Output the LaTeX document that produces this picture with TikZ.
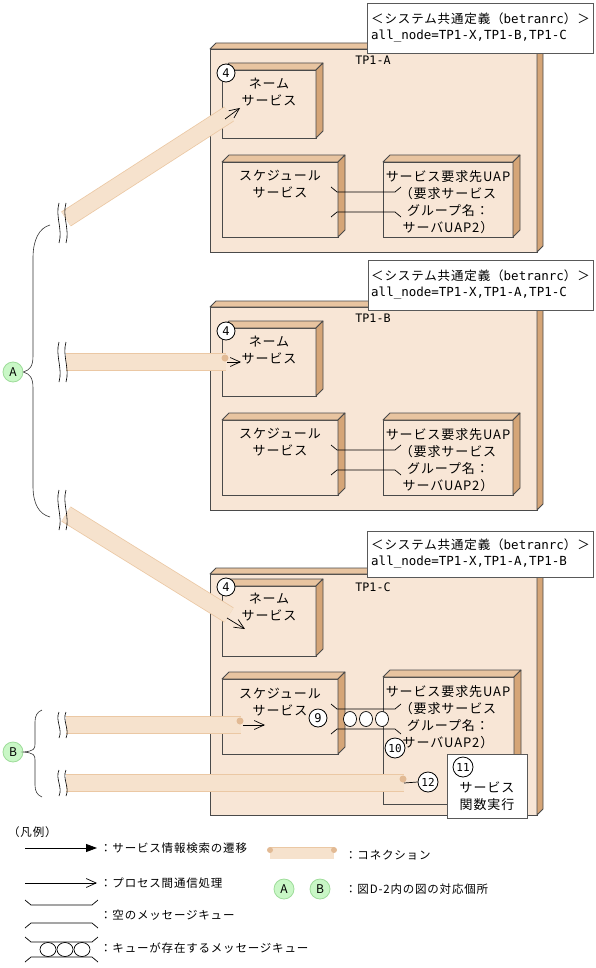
\documentclass[tikz,border=0pt]{standalone}
\usepackage{fontspec}
\setmainfont{Noto Sans CJK JP}[LetterSpace=7]
\newfontfamily\hw{DejaVu Sans Mono}
\usetikzlibrary{arrows.meta,calc}

\definecolor{boxfront}{HTML}{F8E6D6}
\definecolor{boxtop}{HTML}{E8C4A0}
\definecolor{boxside}{HTML}{D5A577}
\definecolor{pipefill}{HTML}{F6E2CD}
\definecolor{pipeedge}{HTML}{EBC8A4}
\definecolor{pipedot}{HTML}{E2BA94}
\definecolor{markfill}{HTML}{C9F7C6}
\definecolor{markedge}{HTML}{9EDC9A}
\definecolor{outline}{HTML}{4A4A4A}

% 3D box: name, x1, y1, x2, y2, depth
\newcommand{\tpbox}[6]{%
  \node[front, minimum width={#4-#2}, minimum height={#5-#3}] (#1) at ({(#2+#4)/2},{(#3+#5)/2}) {};
  \draw[topface] (#1.north west) -- ++(#6,-#6) -- ($(#1.north east)+(#6,-#6)$) -- (#1.north east) -- cycle;
  \draw[sideface] (#1.north east) -- ++(#6,-#6) -- ($(#1.south east)+(#6,-#6)$) -- (#1.south east) -- cycle;}
% message queue: x1, x2, ytop, ybottom
\newcommand{\msgq}[4]{%
  \draw[qline] (#1,#3-5) -- (#1+6,#3) -- (#2-6,#3) -- (#2,#3-5);
  \draw[qline] (#1,#4+5) -- (#1+6,#4) -- (#2-6,#4) -- (#2,#4+5);}
% break mark: x, y, half height
\newcommand{\brk}[3]{%
  \foreach \dx in {0,7}
    \draw[brkline] (#1+\dx,#2-#3) .. controls (#1+\dx-4,#2-#3/3) and (#1+\dx+4,#2+#3/3) .. (#1+\dx,#2+#3);}

\begin{document}
\begin{tikzpicture}[x=1pt, y=-1pt, font=\fontsize{13}{17}\selectfont]
    % Styles
    \tikzstyle{front}=[rectangle, draw=outline, fill=boxfront, line width=0.8pt, inner sep=0pt, outer sep=0pt]
    \tikzstyle{topface}=[draw=outline, fill=boxtop, line width=0.8pt, line join=round]
    \tikzstyle{sideface}=[draw=outline, fill=boxside, line width=0.8pt, line join=round]
    \tikzstyle{note}=[rectangle, draw=gray!70!black, fill=white, line width=0.8pt, inner sep=0pt, outer sep=0pt]
    \tikzstyle{num}=[circle, draw=black, fill=white, line width=0.8pt, inner sep=0pt, minimum size=18pt, font=\hw\fontsize{12}{12}\selectfont]
    \tikzstyle{bignum}=[num, minimum size=20pt, font=\hw\fontsize{11}{11}\selectfont]
    \tikzstyle{refmark}=[circle, draw=markedge, fill=markfill, line width=0.8pt, inner sep=0pt, minimum size=20pt, font=\fontsize{12}{12}\selectfont]
    \tikzstyle{pipe}=[draw=pipeedge, line width=0.8pt, double=pipefill, double distance=16pt]
    \tikzstyle{ipc}=[-{Straight Barb[length=10pt,width=9pt]}, line width=0.7pt]
    \tikzstyle{qline}=[line width=0.7pt]
    \tikzstyle{brkline}=[line width=0.6pt]
    \tikzstyle{brace}=[line width=0.6pt, gray!40!black]
    \tikzstyle{txt}=[inner sep=0pt, align=center]
    \tikzstyle{notetxt}=[inner sep=0pt, align=left, anchor=west, font=\fontsize{12.5}{16}\selectfont]
    \tikzstyle{hwtxt}=[inner sep=0pt, font=\hw\fontsize{11.7}{14}\selectfont]
    \tikzstyle{legtxt}=[inner sep=0pt, anchor=west, font=\fontsize{11.5}{15}\selectfont]

    \useasboundingbox (0,0) rectangle (596,968);

    % TP1-A
    \tpbox{tpa}{210}{49}{537}{252}{6}
    \tpbox{nsa}{222}{70}{316}{138}{7}
    \tpbox{ssa}{222}{162}{338}{237}{7}
    \tpbox{uapa}{383}{162}{513}{237}{7}
    \msgq{331}{401}{192}{212}
    \node[txt] at (269,92) {ネーム\\サービス};
    \node[txt] at (280,184) {スケジュール\\サービス};
    \node[txt] at (448,202) {サービス要求先UAP\\（要求サービス\\グループ名：\\サーバUAP2）};
    \node[hwtxt] at (373,60) {TP1-A};
    \node[note, minimum width=226, minimum height=50] (cfa) at (480,28) {};
    \node[notetxt] at (371,28) {＜システム共通定義（{\hw betranrc}）＞\\{\hw all\_node=TP1-X,TP1-B,TP1-C}};

    % TP1-B
    \tpbox{tpb}{210}{307}{537}{510}{6}
    \tpbox{nsb}{222}{328}{316}{396}{7}
    \tpbox{ssb}{222}{420}{338}{495}{7}
    \tpbox{uapb}{383}{420}{513}{495}{7}
    \msgq{331}{401}{450}{470}
    \node[txt] at (269,350) {ネーム\\サービス};
    \node[txt] at (280,442) {スケジュール\\サービス};
    \node[txt] at (448,460) {サービス要求先UAP\\（要求サービス\\グループ名：\\サーバUAP2）};
    \node[hwtxt] at (373,318) {TP1-B};
    \node[note, minimum width=225, minimum height=50] (cfb) at (480.5,285) {};
    \node[notetxt] at (371,285) {＜システム共通定義（{\hw betranrc}）＞\\{\hw all\_node=TP1-X,TP1-A,TP1-C}};

    % TP1-C
    \tpbox{tpc}{210}{574}{537}{815}{6}
    \tpbox{nsc}{222}{586}{316}{656}{7}
    \tpbox{ssc}{222}{679}{338}{754}{7}
    \tpbox{uapc}{383}{677}{514}{804}{7}
    \msgq{331}{401}{709}{729}
    \foreach \qx in {350,366,382}
        \draw[line width=0.7pt, fill=white] (\qx,719) ellipse (6.5pt and 7.5pt);
    \node[txt] at (269,607) {ネーム\\サービス};
    \node[txt] at (280,702) {スケジュール\\サービス};
    \node[txt] at (448,717) {サービス要求先UAP\\（要求サービス\\グループ名：\\サーバUAP2）};
    \node[hwtxt] at (373,587) {TP1-C};
    \node[note, minimum width=226, minimum height=46] (cfc) at (480,554) {};
    \node[notetxt] at (371,554) {＜システム共通定義（{\hw betranrc}）＞\\{\hw all\_node=TP1-X,TP1-A,TP1-B}};

    % Connections
    \coordinate (a1s) at (66,219);  \coordinate (a1e) at (229,114);
    \coordinate (a2s) at (66,362);  \coordinate (a2e) at (226,362);
    \coordinate (a3s) at (66,514);  \coordinate (a3e) at (229,615);
    \coordinate (b1s) at (66,725);  \coordinate (b1e) at (241,725);
    \coordinate (b2s) at (66,783);  \coordinate (b2e) at (404,783);
    \draw[pipe] (a1s) -- (a1e);
    \draw[pipe] (a2s) -- (a2e);
    \draw[pipe] (a3s) -- (a3e);
    \draw[pipe] (b1s) -- (b1e);
    \draw[pipe] (b2s) -- (b2e);
    \fill[pipedot] (225,358) circle (3.5pt);
    \fill[pipedot] (240,721) circle (3.5pt);
    \fill[pipedot] (403,779) circle (3.5pt);
    \brk{59}{223}{20}
    \brk{59}{362}{20}
    \brk{59}{510}{20}
    \brk{59}{725}{13}
    \brk{59}{783}{13}

    % Braces
    \node[refmark] (ma) at (13,372) {A};
    \node[refmark] (mb) at (13,752) {B};
    \draw[brace] (50,225) .. controls (39,228) and (33,240) .. (33,258) -- (33,356)
        .. controls (33,366) and (30,370) .. (ma.east) .. controls (30,374) and (33,378) .. (33,388)
        -- (33,486) .. controls (33,504) and (39,514) .. (50,517);
    \draw[brace] (42,710) .. controls (37,712) and (35,716) .. (35,722) -- (35,744)
        .. controls (35,749) and (34,751) .. (mb.east) .. controls (34,753) and (35,755) .. (35,760)
        -- (35,785) .. controls (35,791) and (37,795) .. (42,797);

    % Process communication
    \draw[ipc] (225,119) -- (240,108);
    \draw[ipc] (227,362) -- (241,362);
    \draw[ipc] (227,618) -- (245,629);
    \draw[ipc] (243,725) -- (265,725);

    % Numbers
    \node[num] (n4a) at (226,73) {4};
    \node[num] (n4b) at (226,331) {4};
    \node[num] (n4c) at (226,587) {4};
    \node[num] (n9) at (318,718) {9};
    \node[bignum] (n10) at (395,748) {10};
    \node[note, minimum width=80, minimum height=64] (exec) at (487,786) {};
    \node[txt] at (487,796) {サービス\\関数実行};
    \node[bignum] (n11) at (463,767) {11};
    \node[bignum] (n12) at (428,782) {12};
    \draw[line width=0.7pt] (b2e) -- (n12.west);

    % Legend
    \node[legtxt] at (8,832) {（凡例）};
    \draw[-{Triangle[length=11pt,width=8pt]}, line width=0.8pt] (25,848) -- (97,848);
    \node[legtxt] at (100,848) {：サービス情報検索の遷移};
    \draw[pipe, double distance=11pt] (270,853) -- (334,853);
    \fill[pipedot] (270,850) circle (3pt);
    \fill[pipedot] (334,850) circle (3pt);
    \node[legtxt] at (345,855) {：コネクション};
    \draw[ipc] (25,883) -- (97,883);
    \node[legtxt] at (100,883) {：プロセス間通信処理};
    \node[refmark] (la) at (284,889) {A};
    \node[refmark] (lb) at (320,889) {B};
    \node[legtxt] at (345,889) {：図D-2内の図の対応個所};
    \msgq{25}{98}{905}{923}
    \node[legtxt] at (100,915) {：空のメッセージキュー};
    \msgq{25}{98}{942}{957}
    \foreach \qx in {48,65,82}
        \draw[line width=0.7pt] (\qx,949.5) ellipse (8pt and 7pt);
    \node[legtxt] at (100,948) {：キューが存在するメッセージキュー};
\end{tikzpicture}
\end{document}
